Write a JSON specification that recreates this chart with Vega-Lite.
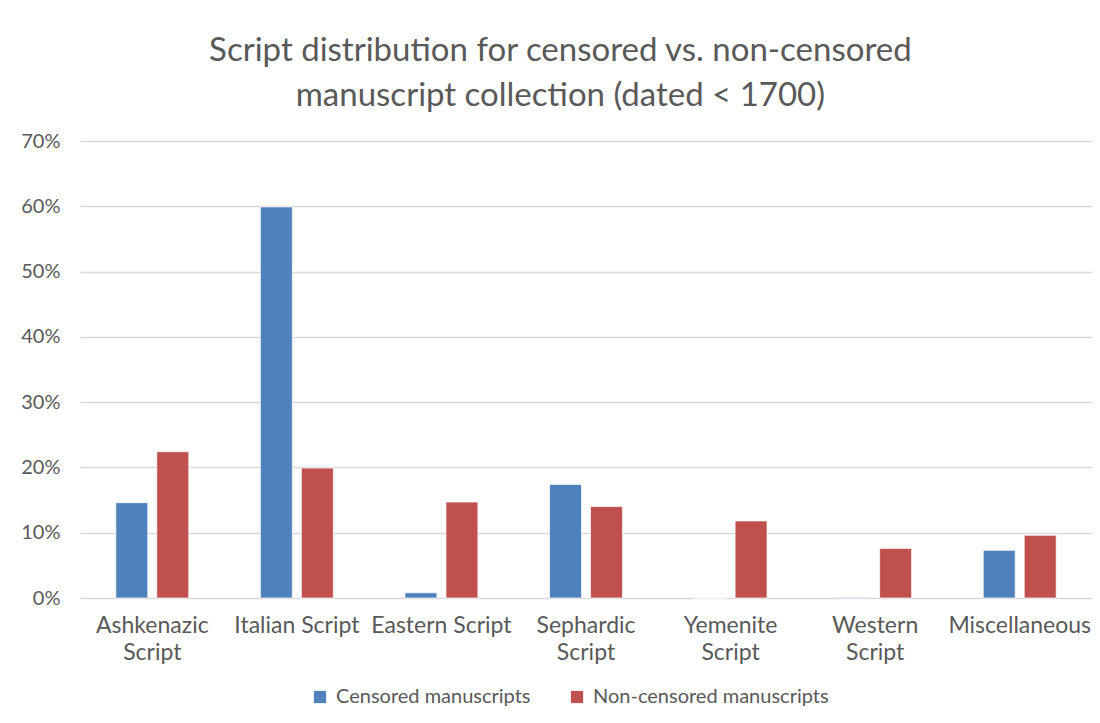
{
  "$schema": "https://vega.github.io/schema/vega-lite/v6.json",
  "width": 1012,
  "height": 457,
  "autosize": {"type": "none"},
  "padding": {"left": 80, "top": 141, "right": 8, "bottom": 125},
  "background": "white",
  "title": {
    "text": ["Script distribution for censored vs. non-censored", "manuscript collection (dated < 1700)"],
    "fontSize": 33,
    "font": "Lato",
    "fontWeight": "normal",
    "color": "#595959",
    "lineHeight": 45,
    "anchor": "middle",
    "frame": "bounds",
    "dx": 4,
    "offset": 18
  },
  "data": {
    "values": [
      {"script": "Ashkenazic Script", "series": "Censored manuscripts", "share": 0.146},
      {"script": "Ashkenazic Script", "series": "Non-censored manuscripts", "share": 0.224},
      {"script": "Italian Script", "series": "Censored manuscripts", "share": 0.599},
      {"script": "Italian Script", "series": "Non-censored manuscripts", "share": 0.199},
      {"script": "Eastern Script", "series": "Censored manuscripts", "share": 0.008},
      {"script": "Eastern Script", "series": "Non-censored manuscripts", "share": 0.147},
      {"script": "Sephardic Script", "series": "Censored manuscripts", "share": 0.174},
      {"script": "Sephardic Script", "series": "Non-censored manuscripts", "share": 0.140},
      {"script": "Yemenite Script", "series": "Censored manuscripts", "share": 0.0},
      {"script": "Yemenite Script", "series": "Non-censored manuscripts", "share": 0.118},
      {"script": "Western Script", "series": "Censored manuscripts", "share": 0.001},
      {"script": "Western Script", "series": "Non-censored manuscripts", "share": 0.076},
      {"script": "Miscellaneous", "series": "Censored manuscripts", "share": 0.073},
      {"script": "Miscellaneous", "series": "Non-censored manuscripts", "share": 0.096}
    ]
  },
  "mark": {"type": "bar", "stroke": "#ffffff", "strokeWidth": 1, "strokeOpacity": 0.7},
  "encoding": {
    "x": {
      "field": "script",
      "type": "nominal",
      "sort": ["Ashkenazic Script", "Italian Script", "Eastern Script", "Sephardic Script", "Yemenite Script", "Western Script", "Miscellaneous"],
      "scale": {"paddingInner": 0, "paddingOuter": 0},
      "axis": {
        "title": null,
        "labelAngle": 0,
        "domain": false,
        "ticks": false,
        "labelPadding": 16,
        "labelFontSize": 23,
        "labelFont": "Lato",
        "labelColor": "#595959",
        "labelLineHeight": 27,
        "labelExpr": "datum.label == 'Italian Script' || datum.label == 'Eastern Script' ? datum.label : split(datum.label, ' ')"
      }
    },
    "xOffset": {
      "field": "series",
      "type": "nominal",
      "scale": {"paddingInner": 0.22, "paddingOuter": 0.874}
    },
    "y": {
      "field": "share",
      "type": "quantitative",
      "scale": {"domain": [0, 0.7], "nice": false},
      "axis": {
        "title": null,
        "values": [0, 0.1, 0.2, 0.3, 0.4, 0.5, 0.6, 0.7],
        "format": ".0%",
        "domain": false,
        "ticks": false,
        "labelPadding": 20,
        "labelFontSize": 20,
        "labelFont": "Lato",
        "labelColor": "#595959",
        "gridColor": "#D9D9D9",
        "gridWidth": 1.5
      }
    },
    "color": {
      "field": "series",
      "type": "nominal",
      "scale": {"domain": ["Censored manuscripts", "Non-censored manuscripts"], "range": ["#4F81BD", "#C0504D"]},
      "legend": {
        "title": null,
        "orient": "none",
        "legendX": 230,
        "legendY": 546,
        "direction": "horizontal",
        "symbolType": "square",
        "symbolSize": 150,
        "symbolStrokeWidth": 0,
        "labelFontSize": 20,
        "labelFont": "Lato",
        "labelColor": "#595959",
        "labelLimit": 0,
        "labelOffset": 6,
        "columnPadding": 36
      }
    }
  },
  "config": {
    "view": {"stroke": null}
  }
}
